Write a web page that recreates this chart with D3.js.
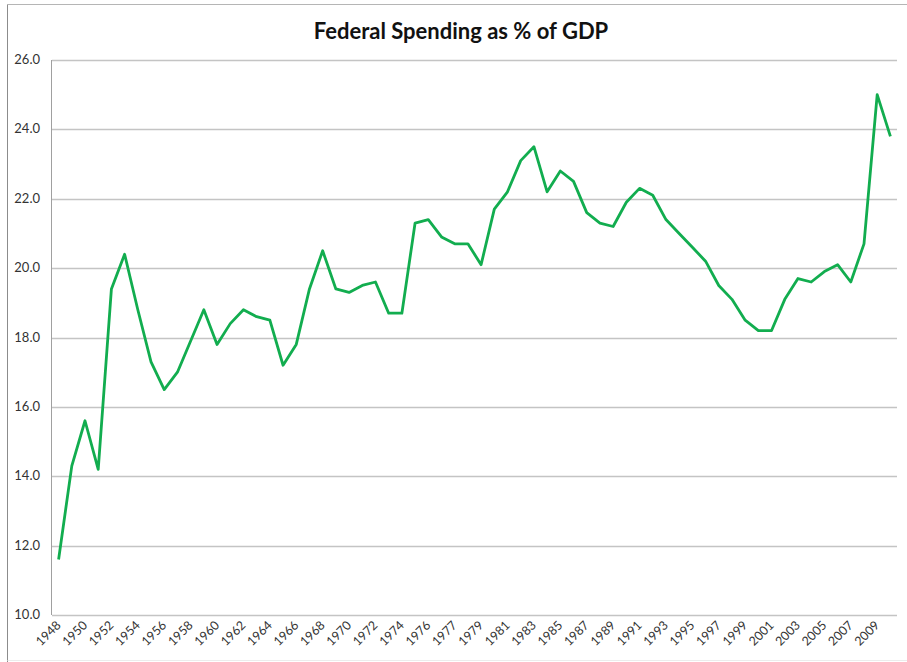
<!DOCTYPE html>
<html>
<head>
<meta charset="utf-8">
<script src="https://cdn.jsdelivr.net/npm/d3@7"></script>
<style>
  body { margin: 0; background: #fff; }
  text { font-family: Lato, "Open Sans", sans-serif; }
</style>
</head>
<body>
<div id="chart"></div>
<script>
  // categories (TQ = transition quarter of 1976)
  var years = ["1948","1949","1950","1951","1952","1953","1954","1955","1956","1957",
               "1958","1959","1960","1961","1962","1963","1964","1965","1966","1967",
               "1968","1969","1970","1971","1972","1973","1974","1975","1976","TQ",
               "1977","1978","1979","1980","1981","1982","1983","1984","1985","1986",
               "1987","1988","1989","1990","1991","1992","1993","1994","1995","1996",
               "1997","1998","1999","2000","2001","2002","2003","2004","2005","2006",
               "2007","2008","2009","2010"];
  var spending = [11.6,14.3,15.6,14.2,19.4,20.4,18.8,17.3,16.5,17.0,
                  17.9,18.8,17.8,18.4,18.8,18.6,18.5,17.2,17.8,19.4,
                  20.5,19.4,19.3,19.5,19.6,18.7,18.7,21.3,21.4,20.9,
                  20.7,20.7,20.1,21.7,22.2,23.1,23.5,22.2,22.8,22.5,
                  21.6,21.3,21.2,21.9,22.3,22.1,21.4,21.0,20.6,20.2,
                  19.5,19.1,18.5,18.2,18.2,19.1,19.7,19.6,19.9,20.1,
                  19.6,20.7,25.0,23.8];
  var yTicks = [10,12,14,16,18,20,22,24,26];

  var width = 907, height = 662;
  var margin_left = 52, margin_right = 10, margin_top = 60, margin_bottom = 47;
  var plotW = width - margin_left - margin_right;
  var plotH = height - margin_top - margin_bottom;

  var svg = d3.select("#chart").append("svg")
    .attr("width", width)
    .attr("height", height);

  // outer frame
  svg.append("line").attr("x1", 7.5).attr("x2", width).attr("y1", 4.5).attr("y2", 4.5)
    .attr("stroke", "#b5b5b5");
  svg.append("line").attr("x1", 7.5).attr("x2", 7.5).attr("y1", 4.5).attr("y2", height)
    .attr("stroke", "#8c8c8c");
  svg.append("line").attr("x1", 7.5).attr("x2", width).attr("y1", height - 1.5).attr("y2", height - 1.5)
    .attr("stroke", "#ececec");

  svg.append("text")
    .attr("x", 461)
    .attr("y", 39)
    .attr("text-anchor", "middle")
    .attr("font-size", 22)
    .attr("font-weight", "bold")
    .attr("fill", "#111")
    .text("Federal Spending as % of GDP");

  var x = d3.scaleBand().domain(years).range([margin_left, margin_left + plotW]);
  var y = d3.scaleLinear().domain([10, 26]).range([margin_top + plotH, margin_top]);

  // gridlines
  svg.append("g").selectAll("line")
    .data(yTicks)
    .enter()
    .append("line")
    .attr("x1", margin_left)
    .attr("x2", margin_left + plotW)
    .attr("y1", function(d){ return Math.round(y(d)) + 0.5; })
    .attr("y2", function(d){ return Math.round(y(d)) + 0.5; })
    .attr("stroke", "#c4c4c4")
    .attr("stroke-width", 1.3);

  // y axis line
  svg.append("line")
    .attr("x1", margin_left - 0.5).attr("x2", margin_left - 0.5)
    .attr("y1", y(26)).attr("y2", y(10))
    .attr("stroke", "#a0a0a0");

  // y labels
  svg.append("g").selectAll("text")
    .data(yTicks)
    .enter()
    .append("text")
    .attr("x", 40)
    .attr("y", function(d){ return y(d) + 4; })
    .attr("text-anchor", "end")
    .attr("font-size", 13)
    .attr("fill", "#333")
    .text(function(d){ return d.toFixed(1); });

  // x labels, every other category
  var labelled = years.filter(function(d, i){ return i % 2 == 0; });
  svg.append("g").selectAll("text")
    .data(labelled)
    .enter()
    .append("text")
    .attr("text-anchor", "end")
    .attr("font-size", 12.5)
    .attr("fill", "#333")
    .attr("transform", function(d){
      var cx = x(d) + x.bandwidth() / 2 + 3;
      return "translate(" + cx + "," + (y(10) + 11) + ") rotate(-45)";
    })
    .text(function(d){ return d; });

  var line = d3.line()
    .x(function(d, i){ return x(years[i]) + x.bandwidth() / 2; })
    .y(function(d){ return y(d); });

  svg.append("path")
    .datum(spending)
    .attr("fill", "none")
    .attr("stroke", "#12ad4f")
    .attr("stroke-width", 2.8)
    .attr("stroke-linejoin", "round")
    .attr("d", line);
</script>
</body>
</html>
